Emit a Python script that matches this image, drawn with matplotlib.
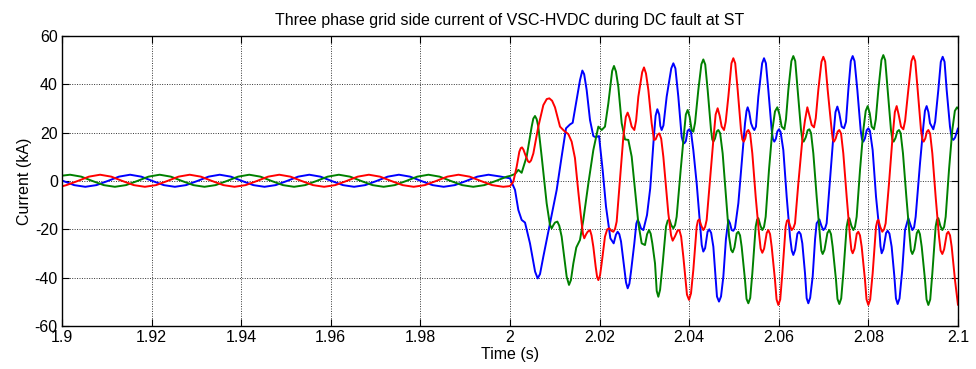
import matplotlib
matplotlib.use("Agg")
import matplotlib.pyplot as plt

plt.rcParams['font.family'] = ['Liberation Sans', 'DejaVu Sans']
plt.rcParams['axes.unicode_minus'] = False

# Axis ticks
x_ticks = [1.9, 1.92, 1.94, 1.96, 1.98, 2.0, 2.02, 2.04, 2.06, 2.08, 2.1]
x_tick_labels = ['1.9', '1.92', '1.94', '1.96', '1.98', '2', '2.02', '2.04', '2.06', '2.08', '2.1']
y_ticks = [-60, -40, -20, 0, 20, 40, 60]

# Phase currents (time s, current kA)
blue_pts = [
    (1.9000, 0.2), (1.9027, -1.7), (1.9052, -2.4), (1.9077, -1.7), (1.9102, 0.0),
    (1.9127, 1.8), (1.9152, 2.6), (1.9177, 1.8), (1.9202, 0.0), (1.9227, -1.7),
    (1.9252, -2.4), (1.9277, -1.7), (1.9302, 0.0), (1.9327, 1.8), (1.9352, 2.6),
    (1.9377, 1.8), (1.9402, 0.0), (1.9427, -1.7), (1.9452, -2.4), (1.9477, -1.7),
    (1.9502, 0.0), (1.9527, 1.8), (1.9552, 2.6), (1.9577, 1.8), (1.9602, 0.0),
    (1.9627, -1.7), (1.9652, -2.4), (1.9677, -1.7), (1.9702, 0.0), (1.9727, 1.8),
    (1.9752, 2.6), (1.9777, 1.8), (1.9802, 0.0), (1.9827, -1.7), (1.9852, -2.4),
    (1.9877, -1.7), (1.9902, 0.0), (1.9927, 1.8), (1.9952, 2.6), (1.9977, 1.9),
    (2.00000, 1.1), (2.00112, -3.7), (2.00186, -12.0), (2.00260, -16.1), (2.00335, -17.2),
    (2.00446, -25.8), (2.00560, -37.5), (2.00618, -40.3), (2.00670, -38.5), (2.00744, -31.3),
    (2.00893, -17.5), (2.01042, -3.7), (2.01153, 10.1), (2.01250, 21.8), (2.01339, 23.4),
    (2.01399, 24.1), (2.01473, 32.1), (2.01563, 41.8), (2.01615, 45.7), (2.01655, 44.2),
    (2.01711, 37.7), (2.01786, 25.2), (2.01860, 18.6), (2.01912, 18.1), (2.01987, 18.6),
    (2.02068, 4.6), (2.02143, -10.6), (2.02240, -23.7), (2.02314, -25.8), (2.02365, -22.2),
    (2.02403, -21.0), (2.02440, -22.0), (2.02478, -25.0), (2.02552, -36.1), (2.02590, -42.0),
    (2.02627, -44.4), (2.02665, -42.5), (2.02701, -37.5), (2.02775, -25.8), (2.02820, -17.6),
    (2.02850, -16.1), (2.02885, -17.4), (2.02924, -19.6), (2.02976, -20.3), (2.03058, -14.1),
    (2.03130, -3.0), (2.03210, 18.0), (2.03250, 27.0), (2.03289, 29.7), (2.03330, 27.5),
    (2.03355, 22.8), (2.03385, 21.1), (2.03425, 23.0), (2.03497, 34.9), (2.03600, 46.6),
    (2.03646, 48.7), (2.03692, 46.6), (2.03757, 34.9), (2.03832, 18.3), (2.03860, 16.3),
    (2.03891, 15.6), (2.03925, 16.5), (2.03965, 20.8), (2.04003, 21.4), (2.04040, 20.3),
    (2.04092, 12.8), (2.04167, -1.0), (2.04241, -17.5), (2.04280, -26.5), (2.04315, -29.2),
    (2.04355, -27.8), (2.04410, -21.0), (2.04449, -20.0), (2.04490, -21.5), (2.04539, -27.2),
    (2.04620, -47.8), (2.04665, -49.9), (2.04710, -47.8), (2.04762, -39.6), (2.04820, -24.0),
    (2.04874, -16.1), (2.04910, -17.5), (2.04948, -20.3), (2.04985, -20.6), (2.05022, -19.5),
    (2.05097, -9.2), (2.05171, 7.3), (2.05246, 23.9), (2.05280, 29.0), (2.05305, 30.5),
    (2.05340, 28.5), (2.05380, 23.9), (2.05420, 22.0), (2.05454, 21.1), (2.05490, 22.5),
    (2.05543, 34.9), (2.05628, 48.7), (2.05670, 50.8), (2.05712, 48.7), (2.05766, 37.7),
    (2.05841, 21.1), (2.05870, 17.3), (2.05900, 16.3), (2.05935, 17.5), (2.05968, 20.5),
    (2.06004, 21.4), (2.06040, 20.3), (2.06101, 12.8), (2.06176, -6.5), (2.06250, -23.0),
    (2.06290, -28.8), (2.06324, -30.6), (2.06365, -28.5), (2.06415, -21.8), (2.06451, -21.0),
    (2.06488, -22.0), (2.06525, -25.8), (2.06585, -38.2), (2.06622, -48.5), (2.06659, -50.6),
    (2.06700, -48.3), (2.06756, -39.6), (2.06810, -24.0), (2.06845, -17.5), (2.06905, -15.9),
    (2.06950, -18.5), (2.06994, -20.3), (2.07035, -19.5), (2.07068, -17.5), (2.07143, 0.4),
    (2.07217, 18.3), (2.07265, 28.5), (2.07307, 30.8), (2.07350, 28.0), (2.07403, 22.5),
    (2.07455, 21.8), (2.07500, 24.5), (2.07552, 37.7), (2.07607, 49.6), (2.07649, 51.7),
    (2.07691, 49.6), (2.07753, 37.7), (2.07827, 21.1), (2.07857, 17.3), (2.07887, 16.3),
    (2.07922, 17.6), (2.07962, 21.0), (2.07999, 21.8), (2.08035, 20.7), (2.08095, 12.8),
    (2.08170, -6.5), (2.08244, -20.3), (2.08270, -27.0), (2.08296, -29.9), (2.08335, -28.2),
    (2.08395, -21.5), (2.08430, -20.6), (2.08470, -21.8), (2.08519, -27.2), (2.08580, -39.6),
    (2.08615, -48.6), (2.08653, -50.9), (2.08695, -48.6), (2.08755, -37.0), (2.08817, -20.3),
    (2.08891, -15.4), (2.08940, -18.2), (2.08981, -20.3), (2.09020, -19.2), (2.09055, -14.8),
    (2.09152, 7.3), (2.09226, 22.5), (2.09262, 29.0), (2.09300, 31.0), (2.09340, 28.5),
    (2.09375, 23.9), (2.09449, 21.4), (2.09490, 24.5), (2.09561, 37.7), (2.09616, 49.3),
    (2.09658, 51.4), (2.09700, 49.3), (2.09747, 37.7), (2.09821, 22.5), (2.09860, 17.8),
    (2.09896, 17.0), (2.09935, 18.0), (2.10000, 21.8),
]

green_pts = [
    (1.9000, 2.2), (1.9018, 2.6), (1.9043, 1.8), (1.9068, 0.0), (1.9093, -1.7),
    (1.9118, -2.4), (1.9143, -1.7), (1.9168, 0.0), (1.9193, 1.8), (1.9218, 2.6),
    (1.9243, 1.8), (1.9268, 0.0), (1.9293, -1.7), (1.9318, -2.4), (1.9343, -1.7),
    (1.9368, 0.0), (1.9393, 1.8), (1.9418, 2.6), (1.9443, 1.8), (1.9468, 0.0),
    (1.9493, -1.7), (1.9518, -2.4), (1.9543, -1.7), (1.9568, 0.0), (1.9593, 1.8),
    (1.9618, 2.6), (1.9643, 1.8), (1.9668, 0.0), (1.9693, -1.7), (1.9718, -2.4),
    (1.9743, -1.7), (1.9768, 0.0), (1.9793, 1.8), (1.9818, 2.6), (1.9843, 1.8),
    (1.9868, 0.0), (1.9893, -1.7), (1.9918, -2.4), (1.9943, -1.7), (1.9968, 0.0),
    (1.9993, 1.8),
    (2.00000, 2.1), (2.00112, 2.9), (2.00186, 4.6), (2.00260, 3.4), (2.00372, 10.1),
    (2.00484, 22.5), (2.00520, 25.8), (2.00558, 26.9), (2.00595, 25.6), (2.00632, 22.5),
    (2.00707, 10.1), (2.00818, -9.2), (2.00890, -18.0), (2.00930, -19.6), (2.00970, -18.2),
    (2.01004, -17.2), (2.01057, -16.8), (2.01100, -18.5), (2.01153, -23.0), (2.01265, -39.6),
    (2.01317, -43.0), (2.01360, -41.0), (2.01414, -34.1), (2.01480, -27.5), (2.01525, -25.8),
    (2.01562, -24.4), (2.01637, -16.1), (2.01749, -1.0), (2.01860, 12.8), (2.01972, 22.5),
    (2.02046, 21.1), (2.02120, 22.5), (2.02195, 32.1), (2.02280, 45.5), (2.02321, 47.6),
    (2.02365, 45.3), (2.02418, 39.0), (2.02493, 23.9), (2.02567, 17.2), (2.02641, 17.0),
    (2.02716, 10.1), (2.02790, -3.7), (2.02865, -17.5), (2.02939, -25.8), (2.03013, -26.5),
    (2.03060, -22.0), (2.03103, -20.3), (2.03140, -21.8), (2.03177, -25.8), (2.03237, -34.1),
    (2.03275, -45.5), (2.03311, -47.9), (2.03350, -45.0), (2.03408, -34.1), (2.03482, -18.9),
    (2.03520, -16.4), (2.03557, -15.9), (2.03600, -18.3), (2.03646, -19.6), (2.03685, -18.2),
    (2.03720, -14.8), (2.03810, 4.6), (2.03884, 19.7), (2.03925, 27.5), (2.03966, 29.4),
    (2.04010, 26.5), (2.04055, 21.1), (2.04092, 20.4), (2.04130, 24.0), (2.04204, 37.7),
    (2.04272, 48.3), (2.04315, 50.3), (2.04358, 48.2), (2.04412, 37.7), (2.04487, 21.1),
    (2.04515, 17.2), (2.04539, 16.3), (2.04575, 17.5), (2.04615, 20.5), (2.04650, 21.1),
    (2.04690, 19.8), (2.04747, 11.4), (2.04821, -6.5), (2.04890, -23.0), (2.04935, -28.5),
    (2.04970, -29.5), (2.05010, -27.5), (2.05060, -21.7), (2.05097, -21.0), (2.05135, -22.5),
    (2.05171, -27.2), (2.05246, -41.0), (2.05280, -48.8), (2.05320, -50.6), (2.05362, -48.4),
    (2.05409, -38.2), (2.05484, -18.9), (2.05515, -16.0), (2.05543, -15.4), (2.05590, -18.5),
    (2.05632, -20.3), (2.05670, -19.0), (2.05707, -14.8), (2.05781, 4.6), (2.05856, 21.1),
    (2.05915, 28.8), (2.05967, 30.5), (2.06015, 27.5), (2.06064, 22.5), (2.06124, 21.4),
    (2.06160, 25.5), (2.06213, 37.7), (2.06281, 49.6), (2.06324, 51.7), (2.06367, 49.6),
    (2.06421, 37.7), (2.06496, 21.1), (2.06525, 17.2), (2.06555, 16.3), (2.06600, 18.0),
    (2.06645, 21.0), (2.06682, 21.4), (2.06720, 19.8), (2.06771, 11.4), (2.06845, -6.5),
    (2.06920, -23.0), (2.06950, -28.8), (2.06979, -30.2), (2.07020, -28.5), (2.07085, -21.5),
    (2.07128, -20.3), (2.07165, -22.0), (2.07202, -27.2), (2.07277, -41.0), (2.07310, -48.8),
    (2.07351, -50.9), (2.07393, -48.6), (2.07440, -38.2), (2.07515, -18.9), (2.07545, -16.0),
    (2.07574, -15.4), (2.07620, -18.5), (2.07664, -20.3), (2.07700, -19.0), (2.07738, -14.8),
    (2.07813, 4.6), (2.07887, 21.1), (2.07940, 29.0), (2.07984, 31.0), (2.08030, 28.0),
    (2.08073, 22.5), (2.08125, 21.4), (2.08165, 25.5), (2.08222, 37.7), (2.08291, 50.0),
    (2.08333, 52.1), (2.08375, 50.0), (2.08430, 37.7), (2.08504, 21.1), (2.08535, 17.2),
    (2.08564, 16.3), (2.08605, 17.8), (2.08645, 20.5), (2.08683, 21.1), (2.08720, 19.8),
    (2.08772, 11.4), (2.08847, -6.5), (2.08921, -23.0), (2.08950, -28.8), (2.08981, -30.2),
    (2.09025, -28.3), (2.09080, -21.6), (2.09115, -20.3), (2.09150, -22.0), (2.09190, -27.2),
    (2.09264, -41.0), (2.09298, -49.0), (2.09338, -51.3), (2.09380, -49.0), (2.09427, -38.2),
    (2.09501, -18.9), (2.09530, -16.0), (2.09561, -15.4), (2.09605, -18.5), (2.09650, -20.3),
    (2.09690, -19.0), (2.09725, -14.8), (2.09799, 4.6), (2.09873, 21.1), (2.09930, 29.0),
    (2.09978, 30.5), (2.10000, 30.0),
]

red_pts = [
    (1.9000, -2.2), (1.9010, -1.7), (1.9035, 0.0), (1.9060, 1.8), (1.9085, 2.6),
    (1.9110, 1.8), (1.9135, 0.0), (1.9160, -1.7), (1.9185, -2.4), (1.9210, -1.7),
    (1.9235, 0.0), (1.9260, 1.8), (1.9285, 2.6), (1.9310, 1.8), (1.9335, 0.0),
    (1.9360, -1.7), (1.9385, -2.4), (1.9410, -1.7), (1.9435, 0.0), (1.9460, 1.8),
    (1.9485, 2.6), (1.9510, 1.8), (1.9535, 0.0), (1.9560, -1.7), (1.9585, -2.4),
    (1.9610, -1.7), (1.9635, 0.0), (1.9660, 1.8), (1.9685, 2.6), (1.9710, 1.8),
    (1.9735, 0.0), (1.9760, -1.7), (1.9785, -2.4), (1.9810, -1.7), (1.9835, 0.0),
    (1.9860, 1.8), (1.9885, 2.6), (1.9910, 1.8), (1.9935, 0.0), (1.9960, -1.7),
    (1.9985, -2.4),
    (2.00000, -2.1), (2.00074, -0.3), (2.00149, 5.9), (2.00208, 12.1), (2.00240, 13.6),
    (2.00268, 13.9), (2.00300, 13.0), (2.00335, 11.2), (2.00400, 8.2), (2.00432, 7.7),
    (2.00470, 8.5), (2.00521, 11.4), (2.00632, 22.5), (2.00744, 31.4), (2.00820, 33.9),
    (2.00878, 34.2), (2.00940, 33.2), (2.01004, 30.5), (2.01116, 22.5), (2.01205, 20.8),
    (2.01302, 19.4), (2.01376, 16.3), (2.01450, 9.5), (2.01525, -4.5), (2.01600, -17.5),
    (2.01630, -22.0), (2.01658, -23.7), (2.01700, -22.0), (2.01734, -21.0), (2.01786, -20.3),
    (2.01820, -22.5), (2.01860, -27.2), (2.01912, -35.4), (2.01945, -39.8), (2.01972, -41.0),
    (2.02010, -39.0), (2.02046, -34.1), (2.02120, -23.0), (2.02170, -20.0), (2.02217, -19.6),
    (2.02265, -20.6), (2.02307, -21.0), (2.02345, -19.8), (2.02381, -16.8), (2.02455, 0.4),
    (2.02530, 18.3), (2.02585, 26.5), (2.02626, 28.3), (2.02670, 26.0), (2.02716, 22.5),
    (2.02775, 21.1), (2.02815, 25.0), (2.02865, 34.9), (2.02950, 45.0), (2.02991, 47.0),
    (2.03035, 44.5), (2.03088, 37.7), (2.03162, 23.9), (2.03214, 17.0), (2.03250, 17.2),
    (2.03295, 19.2), (2.03333, 19.7), (2.03375, 17.5), (2.03423, 10.0), (2.03534, -13.4),
    (2.03595, -22.5), (2.03631, -24.7), (2.03680, -23.0), (2.03740, -20.5), (2.03780, -20.3),
    (2.03820, -23.0), (2.03869, -31.3), (2.03950, -47.0), (2.03996, -49.2), (2.04040, -46.5),
    (2.04092, -36.8), (2.04167, -18.9), (2.04195, -16.4), (2.04226, -15.9), (2.04270, -18.5),
    (2.04315, -20.3), (2.04355, -19.0), (2.04390, -16.1), (2.04464, 0.4), (2.04539, 17.0),
    (2.04590, 27.5), (2.04635, 30.1), (2.04680, 27.0), (2.04725, 22.5), (2.04777, 21.1),
    (2.04815, 24.5), (2.04874, 34.9), (2.04943, 48.7), (2.04985, 50.8), (2.05027, 48.7),
    (2.05082, 37.7), (2.05156, 21.1), (2.05186, 17.2), (2.05216, 16.3), (2.05250, 17.5),
    (2.05285, 20.4), (2.05320, 21.1), (2.05360, 19.6), (2.05409, 11.4), (2.05484, -6.5),
    (2.05558, -21.7), (2.05595, -28.0), (2.05632, -29.7), (2.05672, -28.0), (2.05730, -21.5),
    (2.05766, -20.3), (2.05805, -22.0), (2.05841, -27.2), (2.05915, -41.0), (2.05950, -49.0),
    (2.05990, -51.3), (2.06032, -49.0), (2.06079, -38.2), (2.06153, -18.9), (2.06183, -16.4),
    (2.06213, -16.1), (2.06250, -18.5), (2.06287, -20.3), (2.06325, -19.5), (2.06362, -17.5),
    (2.06436, -1.0), (2.06525, 17.0), (2.06585, 25.2), (2.06637, 30.5), (2.06685, 27.0),
    (2.06734, 23.2), (2.06786, 22.2), (2.06825, 26.0), (2.06882, 37.7), (2.06952, 49.3),
    (2.06994, 51.4), (2.07036, 49.3), (2.07091, 37.7), (2.07180, 21.1), (2.07205, 17.2),
    (2.07232, 16.3), (2.07270, 17.6), (2.07312, 20.4), (2.07350, 21.1), (2.07390, 19.6),
    (2.07440, 11.4), (2.07515, -6.5), (2.07589, -23.0), (2.07620, -28.5), (2.07649, -29.9),
    (2.07690, -28.0), (2.07740, -21.8), (2.07775, -21.0), (2.07812, -22.5), (2.07850, -27.2),
    (2.07924, -41.0), (2.07958, -49.0), (2.07999, -51.3), (2.08040, -49.0), (2.08095, -38.2),
    (2.08170, -18.9), (2.08200, -16.5), (2.08222, -16.1), (2.08265, -19.0), (2.08310, -21.0),
    (2.08350, -20.0), (2.08385, -17.5), (2.08460, -1.0), (2.08534, 17.0), (2.08590, 28.5),
    (2.08631, 31.0), (2.08675, 27.5), (2.08728, 22.5), (2.08780, 21.4), (2.08820, 25.0),
    (2.08891, 37.7), (2.08961, 49.6), (2.09003, 51.7), (2.09045, 49.6), (2.09100, 37.7),
    (2.09174, 21.1), (2.09204, 17.2), (2.09234, 16.3), (2.09270, 17.6), (2.09305, 20.4),
    (2.09338, 21.1), (2.09378, 19.6), (2.09427, 11.4), (2.09501, -6.5), (2.09576, -23.0),
    (2.09612, -28.8), (2.09650, -30.2), (2.09690, -28.3), (2.09750, -21.8), (2.09784, -21.0),
    (2.09822, -22.5), (2.09859, -27.2), (2.09933, -41.0), (2.10000, -51.3),
]

fig = plt.figure(figsize=(9.76, 3.69), dpi=100)
fig.patch.set_facecolor('white')
ax = fig.add_axes([62 / 976, 1 - 326 / 369, (958 - 62) / 976, (326 - 36) / 369])

for pts, col in ((blue_pts, '#0000ff'), (green_pts, '#008000'), (red_pts, '#ff0000')):
    t, i = zip(*pts)
    ax.plot(t, i, color=col, linewidth=1.4, solid_joinstyle='round',
            solid_capstyle='round')

ax.set_xlim(1.9, 2.1)
ax.set_ylim(-60, 60)
ax.set_xticks(x_ticks)
ax.set_xticklabels(x_tick_labels)
ax.set_yticks(y_ticks)
ax.grid(True, color='#333333', linestyle=(0, (1, 1.5)), linewidth=0.7)
ax.tick_params(direction='in', top=True, right=True, length=5, width=0.8,
               labelsize=11.5, colors='black', pad=3)
for s in ax.spines.values():
    s.set_linewidth(1.0)
    s.set_color('black')

ax.set_title('Three phase grid side current of VSC-HVDC during DC fault at ST',
             fontsize=11.5, pad=8)
ax.set_xlabel('Time (s)', fontsize=11.5, labelpad=1)
ax.set_ylabel('Current (kA)', fontsize=11.5, labelpad=2)

fig.savefig('out.png', dpi=100)
